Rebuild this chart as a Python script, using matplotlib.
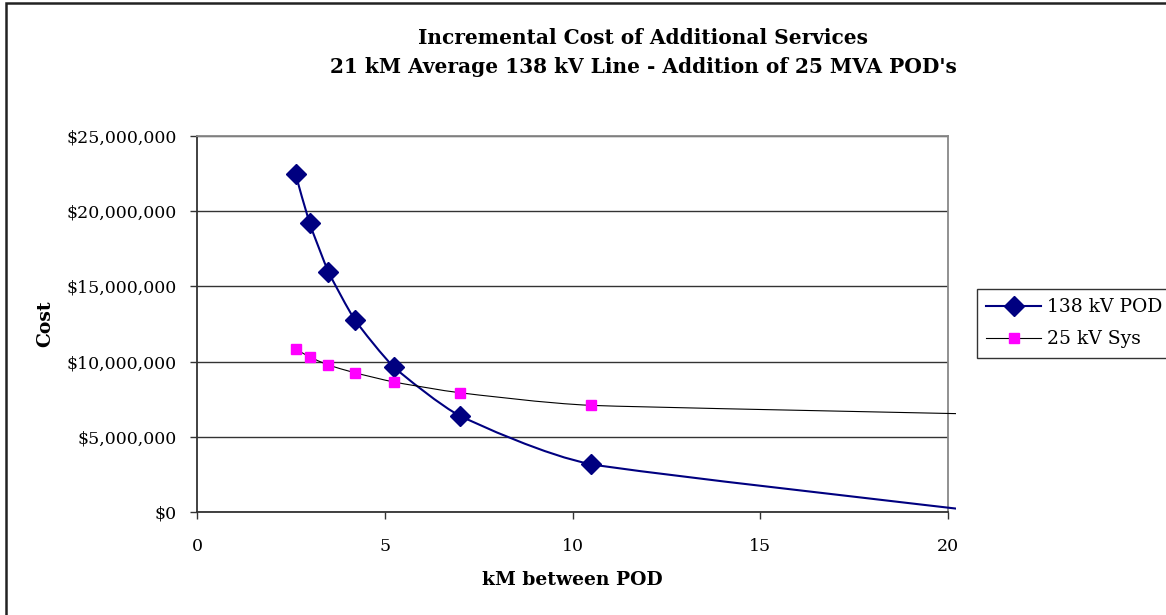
import matplotlib
matplotlib.use("Agg")
import matplotlib.pyplot as plt
from matplotlib.path import Path
from matplotlib.patches import PathPatch, Rectangle
from matplotlib.lines import Line2D
from matplotlib.ticker import FuncFormatter, MultipleLocator
import numpy as np

# Spacing between points of delivery (kM) on a 21 kM line
km_between_pod = [2.625, 3.0, 3.5, 4.2, 5.25, 7.0, 10.5, 21.0]
# Incremental cost, dollars
cost_138kv_pod = [22_470_000, 19_200_000, 15_980_000, 12_790_000, 9_620_000,
                  6_400_000, 3_180_000, 0]
cost_25kv_sys = [10_840_000, 10_310_000, 9_770_000, 9_260_000, 8_640_000,
                 7_930_000, 7_090_000, 6_500_000]

series_names = ["138 kV POD", "25 kV Sys"]
title_lines = ["Incremental Cost of Additional Services",
               "21 kM Average 138 kV Line - Addition of 25 MVA POD's"]
x_label = "kM between POD"
y_label = "Cost"

plt.rcParams["font.family"] = ["DejaVu Serif"]


def smooth_path(xs, ys, k=1 / 12):
    """Cubic Bezier path through the points (cardinal-spline smoothing)."""
    pts = np.column_stack([xs, ys]).astype(float)
    n = len(pts)
    verts = [pts[0]]
    codes = [Path.MOVETO]
    for i in range(n - 1):
        p0 = pts[i - 1] if i > 0 else pts[i]
        p1 = pts[i]
        p2 = pts[i + 1]
        p3 = pts[i + 2] if i + 2 < n else pts[i + 1]
        c1 = p1 + (p2 - p0) * k
        c2 = p2 - (p3 - p1) * k
        verts += [c1, c2, p2]
        codes += [Path.CURVE4] * 3
    return Path(verts, codes)


W, H = 1166, 615
fig = plt.figure(figsize=(W / 100, H / 100), dpi=100)
fig.patch.set_facecolor("white")

ax = fig.add_axes([197 / W, 1 - 512 / H, (948 - 197) / W, (512 - 136) / H])
ax.set_xlim(0, 20)
ax.set_ylim(0, 25_000_000)

clip = Rectangle((0, 0), 1.01, 1.0, transform=ax.transAxes,
                 facecolor="none", edgecolor="none")
ax.add_patch(clip)
clip.set_visible(False)

NAVY = "#000080"
MAGENTA = "#FF00FF"

# Smoothed series lines
p1 = PathPatch(smooth_path(km_between_pod, cost_138kv_pod), facecolor="none",
               edgecolor=NAVY, lw=1.5, zorder=3)
p2 = PathPatch(smooth_path(km_between_pod, cost_25kv_sys), facecolor="none",
               edgecolor="#000000", lw=0.8, zorder=3)
for p in (p1, p2):
    ax.add_patch(p)
    p.set_clip_path(clip)

# Markers
ax.plot(km_between_pod, cost_138kv_pod, ls="none", marker="D", ms=10,
        mfc=NAVY, mec=NAVY, zorder=4)
ax.plot(km_between_pod, cost_25kv_sys, ls="none", marker="s", ms=7.5,
        mfc=MAGENTA, mec=MAGENTA, zorder=4)

# Grid and frame
ax.yaxis.set_major_locator(MultipleLocator(5_000_000))
ax.xaxis.set_major_locator(MultipleLocator(5))
ax.grid(axis="y", color="#333333", lw=1.0)
ax.grid(axis="x", visible=False)
ax.set_axisbelow(True)
for side in ("top", "right"):
    ax.spines[side].set_color("#888888")
    ax.spines[side].set_linewidth(1.3)
for side in ("left", "bottom"):
    ax.spines[side].set_color("#333333")
    ax.spines[side].set_linewidth(1.3)

ax.yaxis.set_major_formatter(FuncFormatter(lambda v, _: f"${v:,.0f}"))
ax.tick_params(axis="both", direction="out", length=5, width=1.0,
               color="#333333", labelsize=12.5, labelcolor="black")
ax.tick_params(axis="y", pad=9.5)
ax.tick_params(axis="x", pad=14)

ax.set_xlabel(x_label, fontsize=13.5, fontweight="bold")
ax.xaxis.set_label_coords(0.5, (512 - 580) / (512 - 136))
ax.xaxis.label.set_va("center")
ax.set_ylabel(y_label, fontsize=13.5, fontweight="bold")
ax.yaxis.set_label_coords((45 - 197) / (948 - 197), 0.5)
ax.yaxis.label.set_va("center")

fig.text(643 / W, 1 - 38 / H, title_lines[0], ha="center", va="center",
         fontsize=14.5, fontweight="bold")
fig.text(643 / W, 1 - 67 / H, title_lines[1], ha="center", va="center",
         fontsize=14.5, fontweight="bold")

# Legend
handles = [
    Line2D([], [], color=NAVY, lw=1.5, marker="D", ms=10,
           mfc=NAVY, mec=NAVY),
    Line2D([], [], color="#000000", lw=0.8, marker="s", ms=7.5,
           mfc=MAGENTA, mec=MAGENTA),
]
leg = fig.legend(handles, series_names, loc="upper left",
                 bbox_to_anchor=(977 / W, 1 - 289 / H),
                 fontsize=13.5, frameon=True, fancybox=False,
                 edgecolor="black", borderpad=0.5, handlelength=2.9,
                 handletextpad=0.35, labelspacing=0.75, borderaxespad=0)
leg.get_frame().set_linewidth(1.0)

# Outer chart border
fig.patches.append(Rectangle((6 / W, -0.05), 1.1, 1 - 3 / H + 0.05,
                             transform=fig.transFigure, fill=False,
                             edgecolor="#222222", lw=1.8))

fig.savefig("out.png", dpi=100, facecolor="white")
